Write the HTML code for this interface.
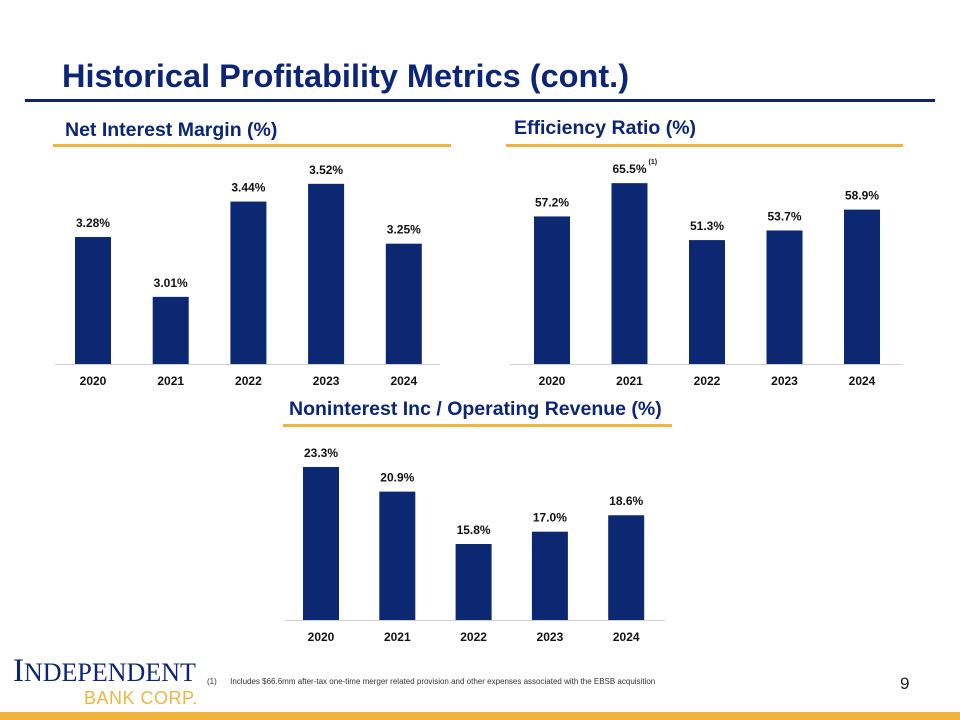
<!DOCTYPE html>
<html><head><meta charset="utf-8"><style>
body{margin:0;width:960px;height:720px;background:#fff;position:relative;overflow:hidden;font-family:"Liberation Sans",Arial,sans-serif}
.abs{position:absolute}
.sub{position:absolute;font-weight:bold;color:#0c2577;font-size:19.5px;white-space:nowrap}
.gold{position:absolute;height:3px;background:#f0b33c}
</style></head><body>
<div class="abs" style="left:62px;top:58px;font-size:32.5px;font-weight:bold;color:#0c2577;white-space:nowrap">Historical Profitability Metrics (cont.)</div>
<div class="abs" style="left:25px;top:99px;width:910px;height:3px;background:#0c2577"></div>
<div class="sub" style="left:65px;top:119px">Net Interest Margin (%)</div>
<div class="gold" style="left:53px;top:144px;width:398px"></div>
<div class="sub" style="left:514px;top:117px">Efficiency Ratio (%)</div>
<div class="gold" style="left:506px;top:144px;width:397px"></div>
<div class="sub" style="left:289px;top:398px">Noninterest Inc / Operating Revenue (%)</div>
<div class="gold" style="left:283px;top:424px;width:389px"></div>
<svg class="abs" style="left:0;top:0" width="960" height="720" id="charts"></svg>
<div class="abs" style="left:13px;top:653px;font-family:'Liberation Serif',serif;font-size:33px;color:#0c2577;white-space:nowrap">I<span style="font-size:26px">NDEPENDENT</span></div>
<div class="abs" style="left:84px;top:688px;font-size:18px;color:#ecb645;letter-spacing:0.5px;white-space:nowrap">BANK CORP.</div>
<div class="abs" style="left:207px;top:677px;font-size:8px;color:#333;white-space:nowrap">(1)&nbsp;&nbsp;&nbsp;&nbsp;&nbsp;&nbsp;Includes $66.6mm after-tax one-time merger related provision and other expenses associated with the EBSB acquisition</div>
<div class="abs" style="left:900px;top:674px;font-size:17px;color:#222">9</div>
<div class="abs" style="left:0;top:712px;width:960px;height:8px;background:#f0b33c"></div>
<script>
const years=["2020","2021","2022","2023","2024"];
const nimValues=[3.28,3.01,3.44,3.52,3.25];
const nimLabels=["3.28%","3.01%","3.44%","3.52%","3.25%"];
const effValues=[57.2,65.5,51.3,53.7,58.9];
const effLabels=["57.2%","65.5%","51.3%","53.7%","58.9%"];
const nonValues=[23.3,20.9,15.8,17.0,18.6];
const nonLabels=["23.3%","20.9%","15.8%","17.0%","18.6%"];
const svg=document.getElementById('charts');
const NS="http://www.w3.org/2000/svg";
function mk(t,a){const e=document.createElementNS(NS,t);for(const k in a)e.setAttribute(k,a[k]);svg.appendChild(e);return e;}
function chart(name,vals,labels,x0,step,base,min,scale,axL,axR,yearY,noteIdx){
  const ax=mk('line',{x1:axL,x2:axR,y1:base+0.5,y2:base+0.5,stroke:'#d0d0d0','stroke-width':1});
  
  
  vals.forEach((v,i)=>{
    const cx=x0+i*step, top=base-(v-min)*scale;
    const r=mk('rect',{x:cx-18,y:top,width:36,height:base-top,fill:'#0c2873'});
    
    
    const t=mk('text',{x:cx,y:top-10,'text-anchor':'middle','font-size':12,'font-weight':'bold',fill:'#111','font-family':'Liberation Sans, sans-serif'});
    t.textContent=labels[i];
    
    
    if(i===noteIdx){const s=mk('text',{x:cx+19,y:top-19,'font-size':7,'font-weight':'bold',fill:'#111'});s.textContent='(1)';
      
      }
    const y=mk('text',{x:cx,y:yearY,'text-anchor':'middle','font-size':12,'font-weight':'bold',fill:'#111'});
    y.textContent=years[i];
    
    
  });
}
chart('nim',nimValues,nimLabels,93,77.7,364,2.707,221.6,55,440,385,-1);
chart('efficiency',effValues,effLabels,552,77.5,364,20.4,4.01,510,903,385,1);
chart('noninterest',nonValues,nonLabels,321,76.3,620,8.4,10.27,285,665,641,-1);
</script>
</body></html>
